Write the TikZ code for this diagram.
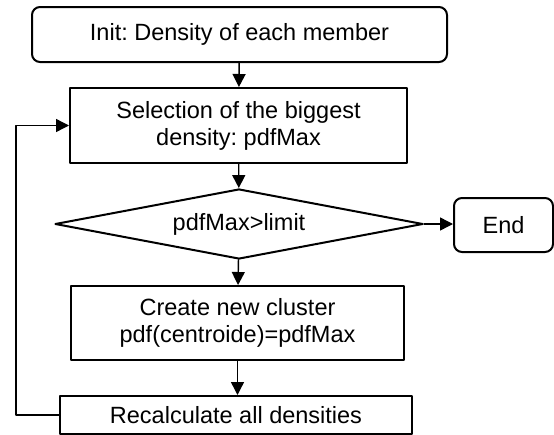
\documentclass[tikz,border=0pt]{standalone}
\usepackage{fontspec}
\setmainfont{Liberation Sans}
\usetikzlibrary{shapes.geometric,arrows.meta}
\frenchspacing
\begin{document}
\begin{tikzpicture}[x=1pt, y=-1pt, font=\fontsize{23.5}{27}\selectfont, line join=round, line cap=round, >={Triangle[length=13pt,width=13pt]},
	box/.style={draw, line width=2pt, inner sep=0pt, align=center},
	arr/.style={->, line width=1.4pt}]
			\useasboundingbox (0,0) rectangle (554,434);
			\clip (0,0) rectangle (554,434);
			\node[box, rounded corners=8pt, minimum width=415pt, minimum height=55pt] (init) at (239.5,34.5) {Init: Density of each member};
			\node[box, minimum width=337pt, minimum height=75pt] (sel) at (238.5,125.5) {Selection of the biggest\\density: pdfMax};
			\node[box, diamond, aspect=5, minimum width=368pt, minimum height=70pt] (test) at (239,224) {pdfMax>limit};
			\node[box, rounded corners=8pt, minimum width=99pt, minimum height=54pt] (stop) at (503.5,225) {End};
			\node[box, minimum width=333pt, minimum height=74pt] (clust) at (237.5,323) {Create new cluster\\pdf(centroide)=pdfMax};
			\node[box, minimum width=352pt, minimum height=38pt] (recalc) at (236,415) {Recalculate all densities};
			\draw[arr] (init) -- (sel);
			\draw[arr] (sel) -- (test);
			\draw[arr] (test) -- (clust);
			\draw[arr] (clust.south) -- (clust.south |- recalc.north);
			\draw[arr] (test.east) -- (test.east -| stop.west);
			\draw[arr] (recalc.west) -- (16,415) |- (sel.west);
		\end{tikzpicture}
\end{document}
